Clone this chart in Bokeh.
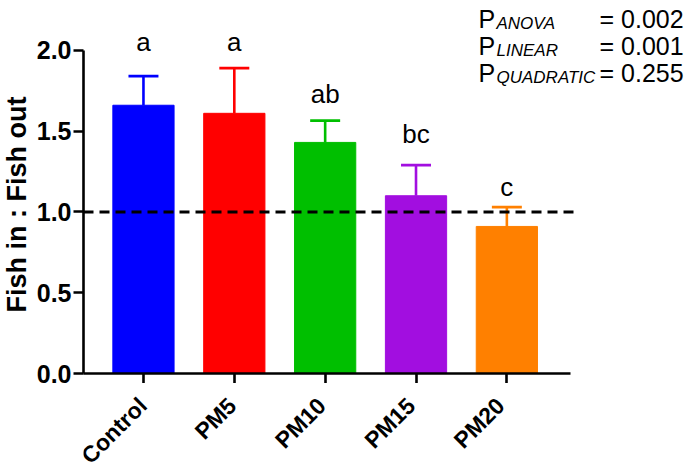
from math import pi

from bokeh.core.properties import value
from bokeh.embed import file_html
from bokeh.layouts import column, row
from bokeh.models import ColumnDataSource, FixedTicker, Range1d
from bokeh.plotting import figure
from bokeh.resources import INLINE

# Group means and SEM of the fish in : fish out ratio
groups = ["Control", "PM5", "PM10", "PM15", "PM20"]
means = [1.66, 1.61, 1.43, 1.10, 0.91]
sems = [0.18, 0.28, 0.135, 0.19, 0.12]
letters = ["a", "a", "ab", "bc", "c"]
letter_y = [2.05, 2.05, 1.727, 1.479, 1.155]
colors = ["#0000FF", "#FF0000", "#00BF00", "#A20EE0", "#FF8000"]
ref_level = 1.0
y_ticks = [0.0, 0.5, 1.0, 1.5, 2.0]

p_names = ["ANOVA", "LINEAR", "QUADRATIC"]
p_values = ["= 0.002", "= 0.001", "= 0.255"]

FONT = "Liberation Sans"
W, H = 697, 466
SIDE_W = 73           # left strip: y-axis title and tick labels
LEFT = 83             # x pixel of the y axis
BOTTOM = 373          # y pixel of the x axis
TICK = 10             # tick length
PX_X = 90.85          # pixels per category
PX_Y = 161.6          # pixels per unit ratio
X0 = -0.66            # data x at the y axis
TOP_H = BOTTOM + TICK
MAIN_W = W - SIDE_W

xs = list(range(len(groups)))
src = ColumnDataSource(dict(
    x=xs, top=means, sem=sems, color=colors,
    upper=[m + s for m, s in zip(means, sems)],
    cap_l=[x - 0.165 for x in xs], cap_r=[x + 0.165 for x in xs],
    letter=letters, ly=letter_y,
))

x_end = X0 + (W - LEFT) / PX_X
y_end = BOTTOM / PX_Y
p = figure(width=MAIN_W, height=TOP_H, output_backend="svg",
           toolbar_location=None,
           x_range=Range1d(X0, x_end), y_range=Range1d(0, y_end),
           min_border_left=LEFT - SIDE_W, min_border_right=0,
           min_border_top=0, min_border_bottom=TICK)
p.outline_line_color = None
p.grid.grid_line_color = None

# bars and one-sided error bars
p.vbar(x="x", top="top", bottom=0, width=0.674, color="color", source=src)
p.segment(x0="x", y0="top", x1="x", y1="upper", line_color="color",
          line_width=2.6, source=src)
p.segment(x0="cap_l", y0="upper", x1="cap_r", y1="upper", line_color="color",
          line_width=2.8, source=src)

# dashed reference line at ratio 1, spanning the x axis
p.segment(x0=[X0], y0=[ref_level], x1=[4.74], y1=[ref_level],
          line_color="black", line_width=3, line_dash="10 6")

# significance letters
p.text(x="x", y="ly", text="letter", source=src, text_align="center",
       text_baseline="alphabetic", text_font=value(FONT),
       text_font_size="26px", text_color="black")

# axis lines and ticks; their labels are drawn in the side and bottom strips
p.xaxis.ticker = FixedTicker(ticks=xs)
p.xaxis.bounds = (X0, 4.70)
p.yaxis.ticker = FixedTicker(ticks=y_ticks)
p.yaxis.bounds = (0, 2.0)
for ax in (p.xaxis, p.yaxis):
    ax.axis_line_width = 2.6
    ax.major_tick_line_width = 2.6
    ax.major_tick_out = TICK
    ax.major_tick_in = 0
    ax.minor_tick_line_color = None
    ax.axis_line_color = "black"
    ax.major_tick_line_color = "black"
    ax.major_label_text_font_size = "0px"
    ax.major_label_standoff = 0
p.xaxis.major_label_overrides = {i: "" for i in xs}
p.yaxis.major_label_overrides = {v: "" for v in y_ticks}


# statistics block in the top right corner
def to_x(px):
    return X0 + (px - LEFT) / PX_X


def to_y(py):
    return (BOTTOM - py) / PX_Y


for i, (name, val) in enumerate(zip(p_names, p_values)):
    base = 18 + 27 * i
    p.text(x=[to_x(478)], y=[to_y(base)], text=["P"], text_font=value(FONT),
           text_font_size="25px", text_baseline="alphabetic")
    p.text(x=[to_x(496)], y=[to_y(base + 5)], text=[name],
           text_font=value(FONT), text_font_size="17px",
           text_font_style="italic", text_baseline="alphabetic")
    p.text(x=[to_x(599)], y=[to_y(base)], text=[val], text_font=value(FONT),
           text_font_size="25px", text_baseline="alphabetic")

# left strip: y tick labels and y-axis title, on the same y scale
side = figure(width=SIDE_W, height=H, output_backend="svg",
              toolbar_location=None, x_range=Range1d(0, SIDE_W),
              y_range=Range1d(to_y(H), to_y(0)), min_border=0)
side.axis.visible = False
side.grid.grid_line_color = None
side.outline_line_color = None
side.text(x=[71] * len(y_ticks), y=y_ticks,
          text=[f"{v:.1f}" for v in y_ticks], text_align="right",
          text_baseline="middle", text_font=value(FONT),
          text_font_style="bold", text_font_size="25px", text_color="black")
side.text(x=[16], y=[to_y(204)], text=["Fish in : Fish out"], angle=pi / 2,
          text_align="center", text_baseline="middle", text_font=value(FONT),
          text_font_style="bold", text_font_size="27px", text_color="black")

# slanted group names under the x axis
LAB_H = H - TOP_H
lab = figure(width=MAIN_W, height=LAB_H, output_backend="svg",
             toolbar_location=None,
             x_range=Range1d(X0 - (LEFT - SIDE_W) / PX_X, x_end),
             y_range=Range1d(0, LAB_H), min_border=0)
lab.axis.visible = False
lab.grid.grid_line_color = None
lab.outline_line_color = None
lab.text(x=[x - 19 / PX_X for x in xs], y=[LAB_H - 9] * len(xs), text=groups,
         angle=pi / 4, text_align="right", text_baseline="top",
         text_font=value(FONT), text_font_style="bold",
         text_font_size="23px", text_color="black")

layout = row(side, column(p, lab, spacing=0), spacing=0)
open("out.html", "w").write(file_html(layout, INLINE))
